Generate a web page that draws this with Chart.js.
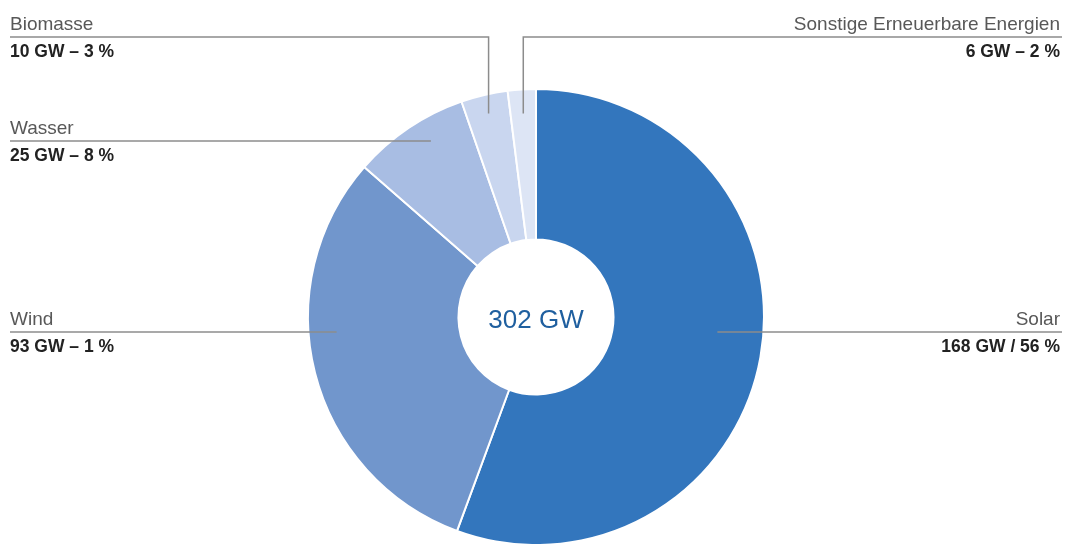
<!DOCTYPE html>
<html>
<head>
<meta charset="utf-8">
<script src="https://cdn.jsdelivr.net/npm/chart.js@4/dist/chart.umd.min.js"></script>
<style>
  html, body { margin: 0; padding: 0; background: #fff; overflow: hidden; }
</style>
</head>
<body>
<canvas id="c" width="1065" height="544"></canvas>
<script>
// data
const categories = ['Solar', 'Wind', 'Wasser', 'Biomasse', 'Sonstige Erneuerbare Energien'];
const capacityGW = [168, 93, 25, 10, 6];
const valueLabels = ['168 GW / 56 %', '93 GW – 1 %', '25 GW – 8 %', '10 GW – 3 %', '6 GW – 2 %'];
const totalLabel = '302 GW';
const sliceColors = ['#3376bd', '#7196cc', '#a8bde3', '#c9d6ef', '#dde5f5'];

// leader line layout per slice (side, y of label rule, how the line reaches the slice)
const leaders = [
  { side: 'right', lineY: 332, mode: 'h', r: 182 },
  { side: 'left', lineY: 332, mode: 'h', r: 200 },
  { side: 'left', lineY: 141, mode: 'h', r: 205 },
  { side: 'left', lineY: 37, mode: 'v', r: 209 },
  { side: 'right', lineY: 37, mode: 'v', r: 204 }
];

const labelPlugin = {
  id: 'leaderLabels',
  afterDatasetsDraw(chart) {
    const ctx = chart.ctx;
    const arcs = chart.getDatasetMeta(0).data;
    const left = 10, right = 1060;
    ctx.save();
    arcs.forEach((arc, i) => {
      const L = leaders[i];
      const cx = arc.x, cy = arc.y;
      let ax, ay;
      if (L.mode === 'v') {
        const mid = (arc.startAngle + arc.endAngle) / 2;
        ax = cx + Math.cos(mid) * L.r;
        ay = cy + Math.sin(mid) * L.r;
      } else {
        const dy = L.lineY - cy;
        const dx = Math.sqrt(L.r * L.r - dy * dy);
        ax = cx + (L.side === 'left' ? -dx : dx);
        ay = L.lineY;
      }
      ctx.strokeStyle = '#8c8c8c';
      ctx.lineWidth = 1.5;
      ctx.beginPath();
      if (L.side === 'left') ctx.moveTo(left, L.lineY);
      else ctx.moveTo(right + 2, L.lineY);
      ctx.lineTo(ax, L.lineY);
      if (L.mode === 'v') ctx.lineTo(ax, ay);
      ctx.stroke();

      ctx.textAlign = L.side === 'left' ? 'left' : 'right';
      ctx.textBaseline = 'alphabetic';
      const tx = L.side === 'left' ? left : right;
      ctx.fillStyle = '#585858';
      ctx.font = '19px "Liberation Sans", Arial, sans-serif';
      ctx.fillText(categories[i], tx, L.lineY - 7);
      ctx.fillStyle = '#222';
      ctx.font = 'bold 17.5px "Liberation Sans", Arial, sans-serif';
      ctx.fillText(valueLabels[i], tx, L.lineY + 20);
    });
    const a0 = arcs[0];
    ctx.fillStyle = '#1f5f9f';
    ctx.font = '26px "Liberation Sans", Arial, sans-serif';
    ctx.textAlign = 'center';
    ctx.textBaseline = 'middle';
    ctx.fillText(totalLabel, a0.x, a0.y + 4);
    ctx.restore();
  }
};

new Chart(document.getElementById('c'), {
  type: 'doughnut',
  data: {
    labels: categories,
    datasets: [{
      data: capacityGW,
      backgroundColor: sliceColors,
      borderColor: '#ffffff',
      borderWidth: 2,
      radius: 228,
      cutout: '34%'
    }]
  },
  options: {
    responsive: false,
    animation: false,
    layout: { padding: { top: 90, left: 7, right: 0, bottom: 0 } },
    plugins: {
      legend: { display: false },
      tooltip: { enabled: false }
    }
  },
  plugins: [labelPlugin]
});
</script>
</body>
</html>
